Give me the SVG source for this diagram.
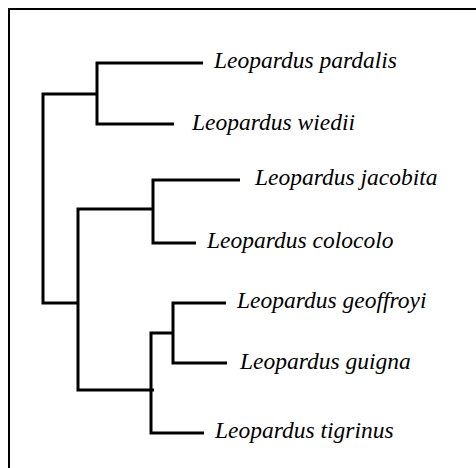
<svg xmlns="http://www.w3.org/2000/svg" width="476" height="468" viewBox="0 0 476 468">
  <style>
    .frame { fill: none; stroke: #000; stroke-width: 2; }
    .branch { fill: none; stroke: #000; stroke-width: 3; stroke-linejoin: miter; stroke-linecap: butt; }
    .taxon { font-family: "Liberation Serif", "Times New Roman", serif; font-style: italic; font-size: 23.5px; fill: #000; }
  </style>
  <rect width="476" height="468" fill="#fff"/>
  <!-- frame: only top and left edges are visible -->
  <path class="frame" d="M9,468 V9 H476"/>

  <!-- tree branches -->
  <g id="connectors">
    <path class="branch" d="M97,94 H43 V303 H78"/>
    <path class="branch" d="M203,63 H97 V124 H174"/>
    <path class="branch" d="M153,209 H78 V390 H154"/>
    <path class="branch" d="M240,180 H153 V243 H196"/>
    <path class="branch" d="M173,333 H151 V433 H204"/>
    <path class="branch" d="M226,303 H173 V363 H227"/>
  </g>

  <!-- leaf taxa -->
  <g id="pardalis"><text class="taxon" x="214" y="68">Leopardus pardalis</text></g>
  <g id="wiedii"><text class="taxon" x="192" y="130">Leopardus wiedii</text></g>
  <g id="jacobita"><text class="taxon" x="255" y="185">Leopardus jacobita</text></g>
  <g id="colocolo"><text class="taxon" x="207" y="248">Leopardus colocolo</text></g>
  <g id="geoffroyi"><text class="taxon" x="237" y="308">Leopardus geoffroyi</text></g>
  <g id="guigna"><text class="taxon" x="240" y="369">Leopardus guigna</text></g>
  <g id="tigrinus"><text class="taxon" x="215" y="438">Leopardus tigrinus</text></g>
</svg>
